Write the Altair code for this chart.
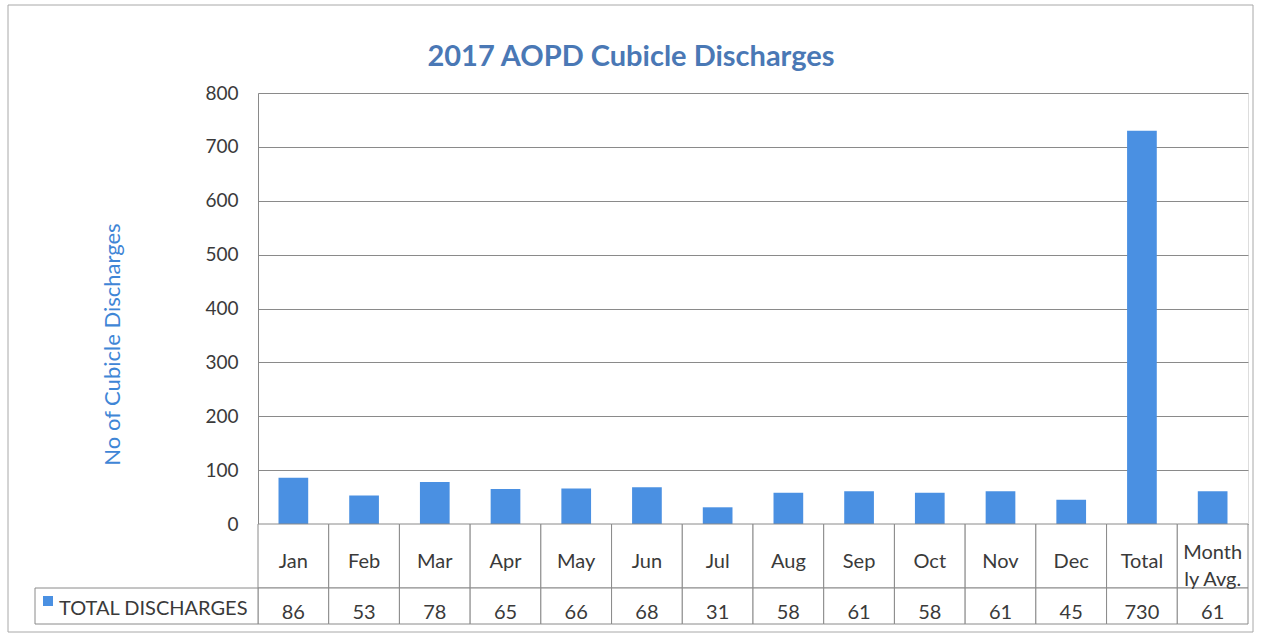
import altair as alt
import pandas as pd

# ---- data ----
categories = ["Jan", "Feb", "Mar", "Apr", "May", "Jun", "Jul", "Aug", "Sep",
              "Oct", "Nov", "Dec", "Total", "Monthly Avg."]
header_labels = ["Jan", "Feb", "Mar", "Apr", "May", "Jun", "Jul", "Aug", "Sep",
                 "Oct", "Nov", "Dec", "Total", "Month\nly Avg."]
discharges = [86, 53, 78, 65, 66, 68, 31, 58, 61, 58, 61, 45, 730, 61]
series_name = "TOTAL DISCHARGES"
chart_title = "2017 AOPD Cubicle Discharges"
y_ticks = [0, 100, 200, 300, 400, 500, 600, 700, 800]

df = pd.DataFrame({"category": categories, "header": header_labels, "value": discharges})
df["wrapped"] = df["header"].str.contains("\n")
legend_df = pd.DataFrame({"label": [series_name], "title": [chart_title]})

# ---- style ----
FONT = "Lato"
BAR = "#4A90E2"
TITLE_C = "#4A78B5"
YTITLE_C = "#3F86D6"
TEXT_C = "#3A3A3A"
LINE_C = "#8A8A8A"
TABLE_FS = 20

W, H = 990, 431          # plot area
HDR_B = H + 64           # bottom of header row
VAL_B = H + 100          # bottom of value row

x_enc = alt.X("category:N", sort=categories, axis=None,
              scale=alt.Scale(domain=categories, paddingInner=0, paddingOuter=0))

# outer border around the whole figure
frame = alt.Chart(legend_df).mark_rect(fillOpacity=0, stroke="#A8A8A8", strokeWidth=1).encode(
    x=alt.value(-250), x2=alt.value(995), y=alt.value(-88), y2=alt.value(539))

title_text = alt.Chart(legend_df).mark_text(
    font=FONT, fontSize=29, fontWeight="bold", color=TITLE_C,
    align="center", baseline="middle").encode(
    x=alt.value(373), y=alt.value(-36), text="title:N")

bars = alt.Chart(df).mark_bar(color=BAR, width=alt.RelativeBandSize(0.42)).encode(
    x=x_enc,
    y=alt.Y("value:Q", scale=alt.Scale(domain=[0, 800], nice=False),
            axis=alt.Axis(values=y_ticks, title="No of Cubicle Discharges",
                          titleX=-146, titleY=251, titleAngle=-90,
                          titleAlign="center", titleBaseline="middle",
                          titleColor=YTITLE_C, titleFont=FONT, titleFontSize=22,
                          titleFontWeight="normal",
                          labelFont=FONT, labelFontSize=19, labelColor=TEXT_C,
                          labelPadding=20, ticks=False,
                          domain=True, domainColor=LINE_C,
                          grid=True, gridColor=LINE_C, gridWidth=1)),
)

# data table under the plot
header_cells = alt.Chart(df).mark_rect(fill="white", stroke=LINE_C, strokeWidth=1).encode(
    x=x_enc, y=alt.value(H), y2=alt.value(HDR_B))
value_cells = alt.Chart(df).mark_rect(fill="white", stroke=LINE_C, strokeWidth=1).encode(
    x=x_enc, y=alt.value(HDR_B), y2=alt.value(VAL_B))

header_text = alt.Chart(df).transform_filter("!datum.wrapped").mark_text(
    font=FONT, fontSize=TABLE_FS, color=TEXT_C, baseline="middle").encode(
    x=x_enc, y=alt.value(H + 38), text="header:N")
header_text_wrapped = alt.Chart(df).transform_filter("datum.wrapped").mark_text(
    font=FONT, fontSize=TABLE_FS, color=TEXT_C, lineBreak="\n",
    baseline="middle", lineHeight=27).encode(
    x=x_enc, y=alt.value(H + 29), text="header:N")
value_text = alt.Chart(df).mark_text(font=FONT, fontSize=TABLE_FS, color=TEXT_C,
                                     baseline="middle").encode(
    x=x_enc, y=alt.value(HDR_B + 25), text="value:Q")

label_cell = alt.Chart(legend_df).mark_rect(fill="white", stroke=LINE_C, strokeWidth=1).encode(
    x=alt.value(-223), x2=alt.value(0), y=alt.value(HDR_B), y2=alt.value(VAL_B))
label_swatch = alt.Chart(legend_df).mark_rect(color=BAR).encode(
    x=alt.value(-215), x2=alt.value(-205), y=alt.value(HDR_B + 8), y2=alt.value(HDR_B + 18))
label_text = alt.Chart(legend_df).mark_text(font=FONT, fontSize=TABLE_FS, color=TEXT_C,
                                            align="left", baseline="middle").encode(
    x=alt.value(-199), y=alt.value(HDR_B + 21), text="label:N")

chart = alt.layer(
    frame, title_text, bars, header_cells, value_cells, header_text,
    header_text_wrapped, value_text, label_cell, label_swatch, label_text,
).properties(
    width=W, height=H,
    autosize=alt.AutoSizeParams(type="none"),
    padding={"left": 258, "top": 93, "right": 15, "bottom": 117},
).configure_view(stroke=None).configure(background="white")

chart.save("out.html", embed_options={"renderer": "svg", "actions": False})
